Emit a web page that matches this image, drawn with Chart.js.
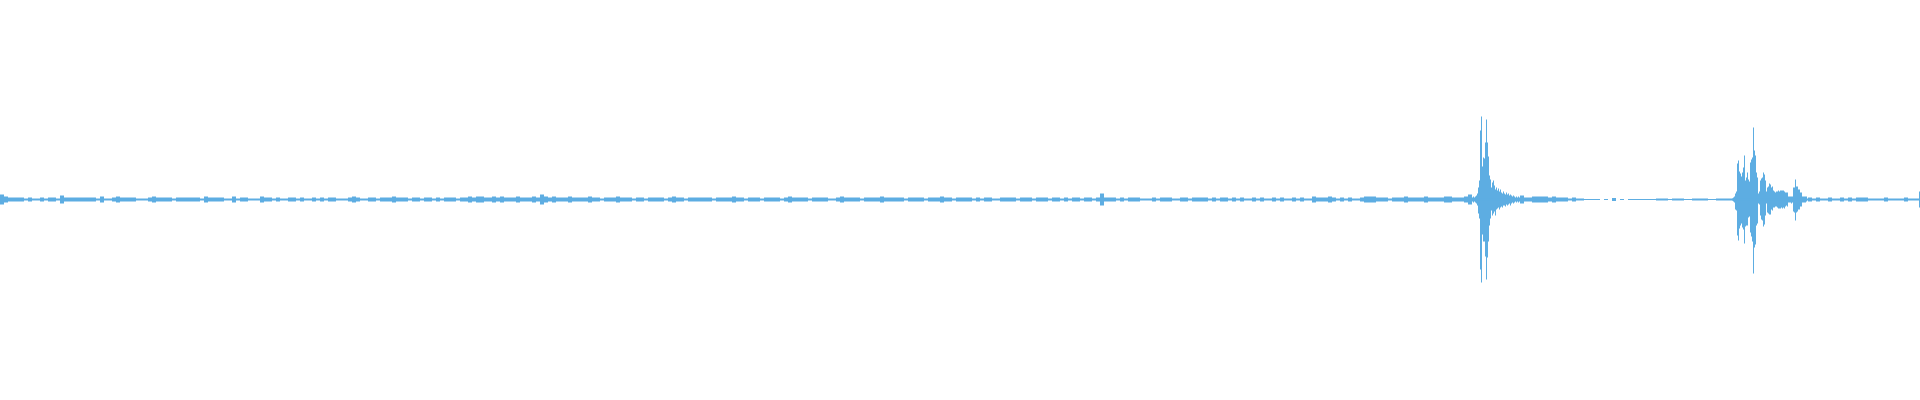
<!DOCTYPE html>
<html>
<head>
<meta charset="utf-8">
<script src="https://cdn.jsdelivr.net/npm/chart.js@4"></script>
<style>
  html, body { margin: 0; padding: 0; background: #fff; }
  #box { width: 1920px; height: 400px; }
</style>
</head>
<body>
<div id="box"><canvas id="fala"></canvas></div>
<script>
// --- Dane (amplitudy w pikselach od osi) ---
// obwiednia w blokach po 4 kolumny (480 blokow = 1920 px)
const blockAmp = [
  5,3,2,2,2,2,1,2,1,1,2,1,2,2,1,4,2,2,2,2,
  2,2,2,2,1,3,1,1,2,3,2,2,2,2,1,1,1,2,3,2,
  2,2,2,1,2,2,2,2,2,2,1,3,2,2,2,2,1,1,3,1,
  2,2,1,1,1,3,2,2,1,2,1,1,2,2,1,2,1,1,2,1,
  2,1,2,2,1,1,1,2,3,2,1,1,2,2,1,2,2,2,3,2,
  2,2,1,2,2,1,2,2,1,2,1,2,2,2,1,2,2,3,2,3,
  3,2,2,3,2,3,2,2,2,3,2,2,2,3,2,5,3,2,3,2,
  2,2,3,2,2,2,2,3,2,2,1,2,2,2,3,2,2,2,1,2,
  2,1,2,2,2,2,1,2,3,2,2,1,2,2,2,2,2,2,1,2,
  2,2,2,3,2,2,1,2,2,2,1,2,2,2,2,1,2,3,2,2,
  2,2,1,2,2,2,2,1,1,2,3,2,2,2,2,1,2,2,2,2,
  3,2,2,2,2,2,1,2,2,2,2,1,2,2,2,3,2,2,1,2,
  2,2,2,1,2,1,2,2,1,1,2,2,2,2,1,2,2,2,1,2,
  2,2,1,2,2,1,2,1,2,2,1,2,2,1,2,6,2,2,2,1,
  2,1,2,2,2,1,1,1,2,1,2,2,2,1,1,2,2,1,2,2,
  2,2,1,2,1,2,2,1,2,1,2,1,1,2,1,2,1,1,2,1,
  2,1,1,2,1,2,1,1,3,2,2,2,3,2,1,2,1,2,1,1,
  2,3,3,3,2,2,2,1,2,2,2,3,2,2,2,2,3,2,2,2,
  2,3,3,2,2,2,3,5,1,1,1,1,1,1,1,1,1,1,1,1,
  4,2,2,3,3,3,3,2,3,2,2,2,1,2,1,1,0.5,0.5,0.5,0.5,
  0,0.5,0,1.5,0,0.5,0,0.5,0.5,0.5,0.5,0.5,0.5,0.5,1,1,1,0.5,1,1,
  1,0.5,0.5,1,1,1,1,0.5,0.5,1,1,1,1,1,1,1,1,1,1,1,
  1,1,1,1,1,1,1,1,1,1,1,1,2,1,2,1,1,2,1,1,
  2,1,2,1,2,2,2,1,1,1,1,2,1,1,1,1,2,1,1,1
];

// pierwszy wybuch, kolumny od 1472
const burstAStart = 1472;
const burstATop = [
  2,3,2,3,4,6,12,19,69,83,
  33,42,41,57,80,57,43,24,20,12,
  17,19,14,10,12,9,11,8,10,7,
  6,8,6,5,7,5,6,4,5,4,
  3,4,3,2,3,2,3,2
];
const burstABot = [
  2,3,2,3,4,6,14,19,70,83,
  35,42,42,57,80,58,42,26,19,11,
  16,14,12,16,10,9,8,10,8,7,
  8,6,6,7,5,6,5,4,6,4,
  3,4,3,2,3,2,3,2
];

// drugi wybuch, kolumny od 1732
const burstBStart = 1732;
const burstBTop = [
  1,2,3,6,8,36,39,28,26,23,
  27,32,44,19,22,27,20,18,37,40,
  42,72,49,44,27,22,6,8,19,21,
  22,27,25,19,8,12,13,16,15,12,
  13,9,8,7,8,8,9,8,9,9,
  9,9,8,7,7,7,3,3,3,3,
  3,12,12,20,13,13,10,10,7,7,
  3,3,3,3,3
];
const burstBBot = [
  1,2,3,10,11,36,41,29,26,24,
  28,30,44,27,26,26,18,17,33,37,
  42,74,48,45,26,24,4,5,16,20,
  21,27,25,16,4,13,14,15,15,10,
  11,8,8,7,7,8,9,9,9,8,
  9,8,9,7,6,7,3,3,3,4,
  3,12,13,21,13,12,10,10,7,7,
  3,3,3,3,2
];

// ostatnia kolumna
const endCols = [1919];
const endAmp = [8];

const kolor = '#5dade2';

// --- Budowanie punktow dla Chart.js ---
const blokiDane = blockAmp.map((a, i) => ({ x: i * 4 + 1.5, y: [-a, a] }));

const drobneDane = [];
burstATop.forEach((t, i) => drobneDane.push({ x: burstAStart + i, y: [-burstABot[i], t] }));
burstBTop.forEach((t, i) => drobneDane.push({ x: burstBStart + i, y: [-burstBBot[i], t] }));
endCols.forEach((c, i) => drobneDane.push({ x: c, y: [-endAmp[i], endAmp[i]] }));

const wspolne = {
  backgroundColor: kolor,
  borderWidth: 0,
  inflateAmount: 0,
  grouped: false
};

new Chart(document.getElementById('fala').getContext('2d'), {
  type: 'bar',
  data: {
    datasets: [
      Object.assign({ label: 'bloki', data: blokiDane, barThickness: 4 }, wspolne),
      Object.assign({ label: 'wybuchy', data: drobneDane, barThickness: 1 }, wspolne)
    ]
  },
  options: {
    responsive: true,
    maintainAspectRatio: false,
    animation: false,
    layout: { padding: 0 },
    scales: {
      // bez offsetu, zeby 1 jednostka = 1 piksel
      x: { type: 'linear', min: -0.5, max: 1919.5, offset: false, display: false },
      y: { min: -200.5, max: 199.5, display: false }
    },
    plugins: {
      legend: { display: false },
      tooltip: { enabled: false }
    }
  }
});
</script>
</body>
</html>
